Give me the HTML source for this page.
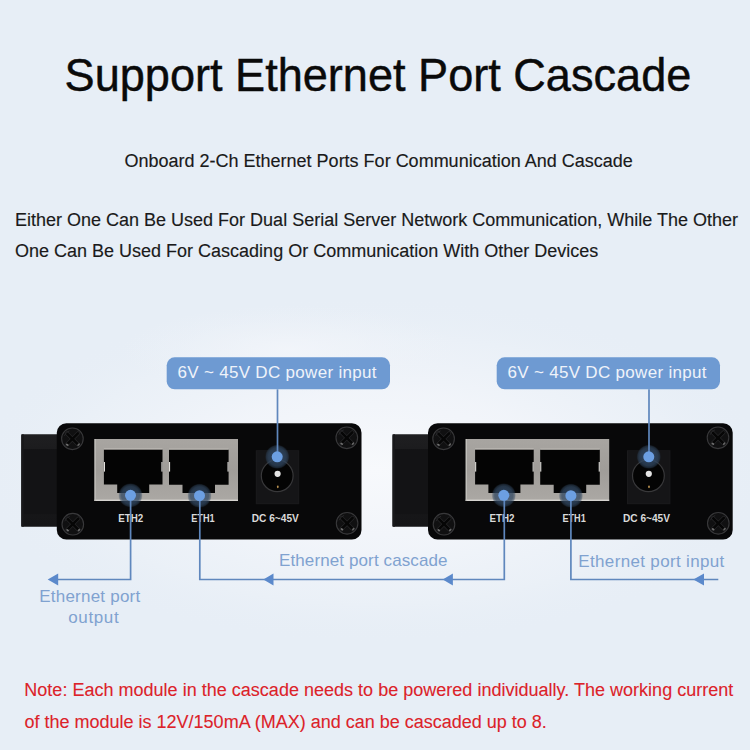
<!DOCTYPE html>
<html><head><meta charset="utf-8">
<style>
html,body{margin:0;padding:0;width:750px;height:750px;overflow:hidden;background:#e7eef6;}
svg{display:block;}
text{font-family:"Liberation Sans",sans-serif;}
</style></head>
<body>
<svg width="750" height="750" viewBox="0 0 750 750">
<defs>
  <radialGradient id="glow1" cx="0" cy="0" r="1" gradientUnits="userSpaceOnUse" gradientTransform="translate(375,470) scale(400,175)">
    <stop offset="0" stop-color="#f7f9fc"/>
    <stop offset="0.45" stop-color="#f2f5fa" stop-opacity="0.9"/>
    <stop offset="0.75" stop-color="#edf2f8" stop-opacity="0.6"/>
    <stop offset="1" stop-color="#e7eef6" stop-opacity="0"/>
  </radialGradient>
  <radialGradient id="glow3" cx="0" cy="0" r="1" gradientUnits="userSpaceOnUse" gradientTransform="translate(290,350) scale(170,45)">
    <stop offset="0" stop-color="#f2f5fa" stop-opacity="0.9"/>
    <stop offset="1" stop-color="#eef2f8" stop-opacity="0"/>
  </radialGradient>
  <radialGradient id="halo" cx="0.5" cy="0.5" r="0.5">
    <stop offset="0" stop-color="#3a5478" stop-opacity="0.85"/>
    <stop offset="0.75" stop-color="#30465f" stop-opacity="0.75"/>
    <stop offset="0.9" stop-color="#30465f" stop-opacity="0.5"/>
    <stop offset="1" stop-color="#30465f" stop-opacity="0.1"/>
  </radialGradient>
  <linearGradient id="blk" x1="0" y1="0" x2="0" y2="1">
    <stop offset="0" stop-color="#1f1f21"/>
    <stop offset="0.155" stop-color="#1c1c1e"/>
    <stop offset="0.165" stop-color="#131315"/>
    <stop offset="0.86" stop-color="#131315"/>
    <stop offset="0.87" stop-color="#161618"/>
    <stop offset="1" stop-color="#151517"/>
  </linearGradient>
  <linearGradient id="frm" x1="0" y1="0" x2="0" y2="1">
    <stop offset="0" stop-color="#a8a5a1"/>
    <stop offset="0.5" stop-color="#a09d99"/>
    <stop offset="1" stop-color="#aba8a4"/>
  </linearGradient>
  <g id="screw">
    <circle r="12" fill="#09090a"/>
    <circle r="10.8" fill="#101011" stroke="#38383a" stroke-width="1.1"/>
    <path d="M-5.5 -5.5 L5.5 5.5 M5.5 -5.5 L-5.5 5.5" stroke="#262628" stroke-width="4" stroke-linecap="round"/>
    <path d="M-5.5 -5.5 L5.5 5.5 M5.5 -5.5 L-5.5 5.5" stroke="#060606" stroke-width="2.6" stroke-linecap="round"/>
    <path d="M-8 -3 A8.5 8.5 0 0 1 -3 -8" stroke="#2c2c2e" stroke-width="0.8" fill="none"/>
    <ellipse cx="-5.2" cy="6" rx="1.5" ry="1" fill="#707070" transform="rotate(35 -5.2 6)"/>
    <ellipse cx="6.2" cy="5.8" rx="1.6" ry="0.9" fill="#666" transform="rotate(-45 6.2 5.8)"/>
  </g>
  <g id="dev">
    <!-- terminal block -->
    <rect x="21.3" y="434.3" width="40" height="92.4" rx="1.5" fill="url(#blk)"/>
    <rect x="21.3" y="434.3" width="2.4" height="92.4" fill="#19191b"/>
    <!-- panel -->
    <rect x="56.8" y="423.2" width="304.7" height="116.4" rx="9.6" fill="#080809"/>
    <!-- port frame -->
    <rect x="94.5" y="439" width="143.5" height="62" fill="url(#frm)"/>
    <rect x="94.5" y="499.6" width="143.5" height="1.4" fill="#d6d4d0"/>
    <rect x="94.5" y="439" width="1.2" height="62" fill="#c4c2be"/>
    <!-- openings -->
    <path d="M103.9 449.4 H162.5 V484.6 H149.2 V493.1 H117.2 V484.6 H103.9 Z" fill="#040404"/>
    <path d="M169 449.6 H228.6 V484.8 H215 V492.9 H182.5 V484.8 H169 Z" fill="#040404"/>
    <g fill="#e2e0dc">
      <rect x="103.9" y="462" width="1.1" height="9.6"/>
      <rect x="161.4" y="462" width="1.1" height="9.6"/>
      <rect x="169" y="462" width="1.1" height="9.6"/>
      <rect x="227.5" y="462" width="1.1" height="9.6"/>
    </g>
    <g fill="#c2bfba">
      <rect x="103.9" y="448.4" width="58.6" height="1"/>
      <rect x="169" y="448.6" width="59.6" height="1"/>
    </g>
    <!-- DC jack -->
    <rect x="255.8" y="450.2" width="43.4" height="54" fill="#1a1a1c"/>
    <rect x="256.8" y="451.2" width="41.4" height="52" fill="#151517"/>
    <circle cx="277.2" cy="475.8" r="15.9" fill="#040404" stroke="#38383a" stroke-width="1.2"/>
    <circle cx="277.6" cy="473.8" r="3.1" fill="#e4e4e4"/>
    <ellipse cx="277.8" cy="486.8" rx="0.9" ry="1.4" fill="#b89050"/>
    <!-- screws -->
    <use href="#screw" transform="translate(72.4,438.8)"/>
    <use href="#screw" transform="translate(72.8,524.2)"/>
    <use href="#screw" transform="translate(346.8,437.8)"/>
    <use href="#screw" transform="translate(347.1,523.3)"/>
    <!-- labels -->
    <g fill="#dadada" font-weight="bold" font-size="10.8">
      <text x="118.3" y="521.9" textLength="25" lengthAdjust="spacingAndGlyphs">ETH2</text>
      <text x="191.2" y="521.9" textLength="23.4" lengthAdjust="spacingAndGlyphs">ETH1</text>
      <text x="251.8" y="521.7" textLength="47" lengthAdjust="spacingAndGlyphs">DC 6~45V</text>
    </g>
  </g>
</defs>
<rect x="0" y="0" width="750" height="750" fill="#e7eef6"/>
<rect x="0" y="0" width="750" height="750" fill="url(#glow1)"/>
<rect x="0" y="250" width="750" height="200" fill="url(#glow3)"/>

<text x="64.6" y="90.5" font-size="46" fill="#0a0a0a" stroke="#0a0a0a" stroke-width="0.45" textLength="626.7" lengthAdjust="spacingAndGlyphs">Support Ethernet Port Cascade</text>
<text x="124.5" y="166.7" font-size="18" fill="#1a1a1a" stroke="#1a1a1a" stroke-width="0.15">Onboard 2-Ch Ethernet Ports For Communication And Cascade</text>
<text x="15" y="225.9" font-size="18" fill="#1a1a1a" stroke="#1a1a1a" stroke-width="0.15">Either One Can Be Used For Dual Serial Server Network Communication, While The Other</text>
<text x="15" y="256.8" font-size="18" fill="#1a1a1a" stroke="#1a1a1a" stroke-width="0.15">One Can Be Used For Cascading Or Communication With Other Devices</text>

<!-- callouts -->
<rect x="166.7" y="357.3" width="223.3" height="32" rx="8" fill="#6e9ad2"/>
<rect x="496.7" y="357.3" width="223.3" height="32" rx="8" fill="#6e9ad2"/>
<g fill="#eef3fa" font-size="17">
  <text x="177.5" y="378.3" textLength="199" lengthAdjust="spacing">6V ~ 45V DC power input</text>
  <text x="507.5" y="378.3" textLength="199" lengthAdjust="spacing">6V ~ 45V DC power input</text>
</g>

<use href="#dev"/>
<use href="#dev" transform="translate(371.2,0)"/>

<!-- halos -->
<g>
  <circle cx="130.5" cy="495.3" r="12" fill="url(#halo)"/>
  <circle cx="199.5" cy="495.7" r="12" fill="url(#halo)"/>
  <circle cx="277.2" cy="456.8" r="12" fill="url(#halo)"/>
  <circle cx="503.8" cy="495.3" r="12" fill="url(#halo)"/>
  <circle cx="570.9" cy="495.7" r="12" fill="url(#halo)"/>
  <circle cx="648.8" cy="456.8" r="12" fill="url(#halo)"/>
</g>
<!-- lines -->
<g stroke="#5f87bd" stroke-width="1.7" fill="none">
  <path d="M277.5 389.3 V457"/>
  <path d="M649 389.3 V457"/>
  <path d="M130.6 495 V579.5 H56"/>
  <path d="M199.8 495 V579.5 H504.3 V495"/>
  <path d="M570.9 495 V579.5 H718.3"/>
</g>
<g fill="#5b89cb">
  <path d="M47.7 579.5 L58.2 573.4 L58.2 585.4 Z"/>
  <path d="M263.3 579.5 L273.5 573.4 L273.5 585.4 Z"/>
  <path d="M442.7 579.5 L452.9 573.4 L452.9 585.4 Z"/>
  <path d="M693.3 579.5 L704 573.4 L704 585.4 Z"/>
</g>
<!-- dots -->
<g>
  <circle cx="130.5" cy="495.3" r="5.5" fill="#6c9fe2"/>
  <circle cx="199.5" cy="495.7" r="5.5" fill="#6c9fe2"/>
  <circle cx="277.2" cy="456.8" r="5.5" fill="#6c9fe2"/>
  <circle cx="503.8" cy="495.3" r="5.5" fill="#6c9fe2"/>
  <circle cx="570.9" cy="495.7" r="5.5" fill="#6c9fe2"/>
  <circle cx="648.8" cy="456.8" r="5.5" fill="#6c9fe2"/>
</g>

<g fill="#80a2d0" font-size="17">
  <text x="39.2" y="601.8" textLength="101" lengthAdjust="spacing">Ethernet port</text>
  <text x="68.2" y="623.2" textLength="50.5" lengthAdjust="spacing">output</text>
  <text x="279" y="565.8" textLength="168.5" lengthAdjust="spacing">Ethernet port cascade</text>
  <text x="578.3" y="567.4" textLength="146" lengthAdjust="spacing">Ethernet port input</text>
</g>

<g fill="#dc2229" stroke="#dc2229" stroke-width="0.1" font-size="18">
  <text x="24.3" y="695.9" textLength="709" lengthAdjust="spacing">Note: Each module in the cascade needs to be powered individually. The working current</text>
  <text x="24.5" y="727.9">of the module is 12V/150mA (MAX) and can be cascaded up to 8.</text>
</g>
</svg>
</body></html>
